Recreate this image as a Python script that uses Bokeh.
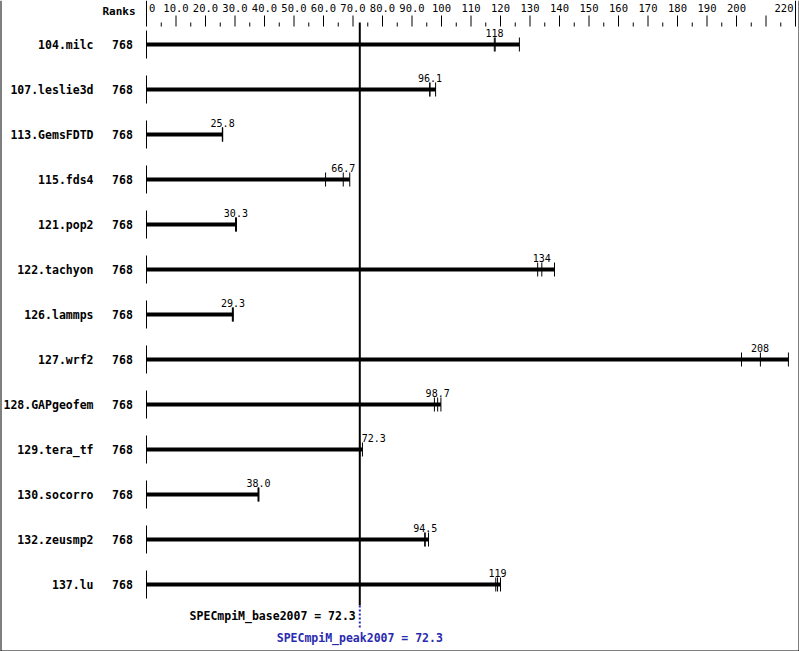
from bokeh.plotting import figure
from bokeh.models import Range1d, ColumnDataSource
from bokeh.core.properties import value
from bokeh.embed import file_html
from bokeh.resources import INLINE

# ---------------- data ----------------
benchmarks = ["104.milc", "107.leslie3d", "113.GemsFDTD", "115.fds4", "121.pop2",
              "122.tachyon", "126.lammps", "127.wrf2", "128.GAPgeofem", "129.tera_tf",
              "130.socorro", "132.zeusmp2", "137.lu"]
ranks = [768, 768, 768, 768, 768, 768, 768, 768, 768, 768, 768, 768, 768]
run1 = [117.9, 96.0, 25.7, 60.7, 30.2, 132.6, 29.1, 201.7, 97.6, 72.2, 37.8, 94.3, 118.4]
run2 = [118.2, 96.1, 25.8, 66.7, 30.3, 134.0, 29.3, 208.1, 98.7, 72.3, 38.0, 94.5, 119.0]
run3 = [126.4, 98.0, 25.8, 68.9, 30.5, 138.3, 29.4, 217.6, 99.8, 73.2, 38.1, 95.6, 120.0]
medians = [118, 96.1, 25.8, 66.7, 30.3, 134, 29.3, 208, 98.7, 72.3, 38.0, 94.5, 119]
base_score = 72.3
peak_score = 72.3
tick_values = [0, 10, 20, 30, 40, 50, 60, 70, 80, 90, 100, 110, 120, 130, 140,
               150, 160, 170, 180, 190, 200, 210, 220]
tick_labels = ["0", "10.0", "20.0", "30.0", "40.0", "50.0", "60.0", "70.0", "80.0",
               "90.0", "100", "110", "120", "130", "140", "150", "160", "170", "180",
               "190", "200", "", "220"]

# ---------------- layout ----------------
W, H = 799, 651
X0_PX = 146.0
PX_PER = 2.95
ROW0, ROW_STEP = 44, 45
AXIS_BASE = 26
MONO = value("DejaVu Sans Mono")
BLUE = "#2a2ab0"


def px_x(px):
    return (px - X0_PX) / PX_PER


p = figure(width=W, height=H, output_backend="svg", toolbar_location=None,
           x_range=Range1d(px_x(0), px_x(W)), y_range=Range1d(H, 0),
           x_axis_location=None, y_axis_location=None, min_border=0)
p.grid.visible = False
p.outline_line_color = None
p.background_fill_color = "white"

# image border (left, right, bottom)
p.segment(x0=[px_x(0), px_x(W), px_x(0)], x1=[px_x(0), px_x(W), px_x(W)],
          y0=[0, 0, H], y1=[H, H, H], line_color="black", line_width=2)

n = len(benchmarks)
ys = [ROW0 + ROW_STEP * i for i in range(n)]
bar_end = [max(a, b, c) for a, b, c in zip(run1, run2, run3)]

# top scale
minor = [v + 5 for v in tick_values[:-1]]
p.segment(x0=tick_values[1:-1], x1=tick_values[1:-1], y0=[AXIS_BASE - 11] * (len(tick_values) - 2),
          y1=[AXIS_BASE] * (len(tick_values) - 2), line_color="black", line_width=1)
p.segment(x0=minor, x1=minor, y0=[AXIS_BASE - 4] * len(minor), y1=[AXIS_BASE] * len(minor),
          line_color="black", line_width=1)
p.segment(x0=[tick_values[0], tick_values[-1]], x1=[tick_values[0], tick_values[-1]],
          y0=[0, 0], y1=[AXIS_BASE, AXIS_BASE], line_color="black", line_width=1)
mid_src = ColumnDataSource(dict(x=tick_values[1:-1], t=tick_labels[1:-1]))
p.text(x="x", y=7, text="t", source=mid_src, text_align="center", text_baseline="middle",
       text_font=MONO, text_font_size="10.5px", text_color="black")
p.text(x=[tick_values[0]], y=[7], text=[tick_labels[0]], x_offset=2.5, text_align="left",
       text_baseline="middle", text_font=MONO, text_font_size="10.5px", text_color="black")
p.text(x=[tick_values[-1]], y=[7], text=[tick_labels[-1]], x_offset=-2, text_align="right",
       text_baseline="middle", text_font=MONO, text_font_size="10.5px", text_color="black")
p.text(x=[px_x(135)], y=[10.5], text=["Ranks"], text_align="right", text_baseline="middle",
       text_font=MONO, text_font_style="bold", text_font_size="11px", text_color="black")

# row labels
p.text(x=[px_x(93)] * n, y=ys, text=benchmarks, text_align="right", text_baseline="middle",
       text_font=MONO, text_font_style="bold", text_font_size="11.5px", text_color="black")
p.text(x=[px_x(122)] * n, y=ys, text=[str(r) for r in ranks], text_align="center",
       text_baseline="middle", text_font=MONO, text_font_style="bold",
       text_font_size="11.5px", text_color="black")

# row base lines and bars
p.segment(x0=[0] * n, x1=[0] * n, y0=[y - 14 for y in ys], y1=[y + 14 for y in ys],
          line_color="black", line_width=1)
p.quad(left=[0] * n, right=bar_end, top=[y - 2 for y in ys], bottom=[y + 2 for y in ys],
       fill_color="black", line_color=None)

# run ticks
rx = run1 + run2 + run3
ry = ys * 3
p.segment(x0=rx, x1=rx, y0=[y - 7 for y in ry], y1=[y + 7 for y in ry],
          line_color="black", line_width=1)


def fmt(v):
    return "%d" % round(v) if v >= 100 else "%.1f" % v


norm_x, norm_y, norm_t, near_x, near_y, near_t = [], [], [], [], [], []
for m, y in zip(medians, ys):
    if abs(m - base_score) * PX_PER < 12:
        near_x.append(m); near_y.append(y - 8); near_t.append(fmt(m))
    else:
        norm_x.append(m); norm_y.append(y - 8); norm_t.append(fmt(m))
p.text(x=norm_x, y=norm_y, text=norm_t, text_align="center", text_baseline="bottom",
       text_font=MONO, text_font_size="10px", text_color="black")
p.text(x=near_x, y=near_y, text=near_t, x_offset=2, text_align="left", text_baseline="bottom",
       text_font=MONO, text_font_size="10px", text_color="black")

# overall score line
p.segment(x0=[base_score], x1=[base_score], y0=[22], y1=[605], line_color="black", line_width=2)
p.segment(x0=[peak_score], x1=[peak_score], y0=[605], y1=[628], line_color=BLUE, line_width=2,
          line_dash="2 2")
p.text(x=[base_score], y=[615], text=["SPECmpiM_base2007 = %.1f" % base_score], x_offset=-4,
       text_align="right", text_baseline="middle", text_font=MONO, text_font_style="bold",
       text_font_size="11.5px", text_color="black")
p.text(x=[peak_score], y=[637], text=["SPECmpiM_peak2007 = %.1f" % peak_score],
       text_align="center", text_baseline="middle", text_font=MONO, text_font_style="bold",
       text_font_size="11.5px", text_color=BLUE)

open("out.html", "w").write(file_html(p, INLINE))
